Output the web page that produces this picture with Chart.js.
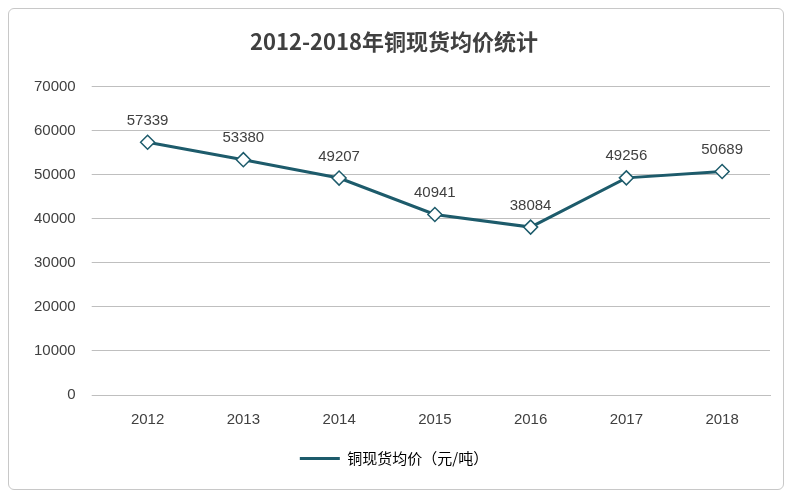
<!DOCTYPE html>
<html><head><meta charset="utf-8">
<script src="https://cdn.jsdelivr.net/npm/chart.js@4"></script>
<style>
html,body{margin:0;padding:0;background:#fff;}
#wrap{position:absolute;left:8px;top:8px;width:776px;height:482px;border:1px solid #c8c8c8;border-radius:6px;box-sizing:border-box;}
canvas{position:absolute;left:0;top:0;}
</style></head>
<body>
<div id="wrap"></div>
<canvas id="c" width="800" height="500"></canvas>
<script>
const categories = ["2012","2013","2014","2015","2016","2017","2018"];
const prices = [57339,53380,49207,40941,38084,49256,50689];
const yTicks = [0,10000,20000,30000,40000,50000,60000,70000];
const title = "2012-2018年铜现货均价统计";
const seriesName = "铜现货均价（元/吨）";

const labelPlugin = {
  id:'lbl',
  afterDatasetsDraw(chart){
    const ctx=chart.ctx, meta=chart.getDatasetMeta(0);
    ctx.save();ctx.font='15px "Liberation Sans", Arial';ctx.fillStyle='#404040';ctx.textAlign='center';ctx.textBaseline='bottom';
    meta.data.forEach((p,i)=>ctx.fillText(String(prices[i]),p.x,p.y-14));
    ctx.restore();
  }
};
new Chart(document.getElementById('c'),{
  type:'line',
  data:{labels:categories,datasets:[{label:seriesName,data:prices,borderColor:'#1d5b6b',borderWidth:3,
    pointStyle:'rectRot',pointRadius:7,pointHoverRadius:7,pointBackgroundColor:'#fff',pointBorderColor:'#1d5b6b',pointBorderWidth:1.5,tension:0}]},
  options:{responsive:false,animation:false,
    layout:{padding:{left:18,right:30,top:18,bottom:24}},
    plugins:{
      title:{display:true,text:title,font:{size:22,weight:'bold',family:'"Noto Sans CJK SC"'},color:'#404040',padding:{top:10,bottom:32}},
      legend:{position:'bottom',labels:{font:{size:15,family:'"Noto Sans CJK SC"'},color:'#404040',boxWidth:40,boxHeight:0,padding:14,
        generateLabels:(c)=>[{text:seriesName,strokeStyle:'#1d5b6b',lineWidth:3,fillStyle:'#fff',pointStyle:'line',hidden:false,datasetIndex:0}]}},
      tooltip:{enabled:false}
    },
    scales:{
      x:{offset:true,grid:{display:false},border:{color:'#bfbfbf'},ticks:{font:{size:15,family:'"Liberation Sans"'},color:'#404040',padding:8}},
      y:{min:0,max:70000,afterBuildTicks:(a)=>{a.ticks=yTicks.map(v=>({value:v}));},
        grid:{color:'#bfbfbf'},border:{display:false},ticks:{callback:(v)=>String(v),font:{size:15,family:'"Liberation Sans"'},color:'#404040',padding:16}}
    }
  },
  plugins:[labelPlugin]
});
</script>
</body></html>
